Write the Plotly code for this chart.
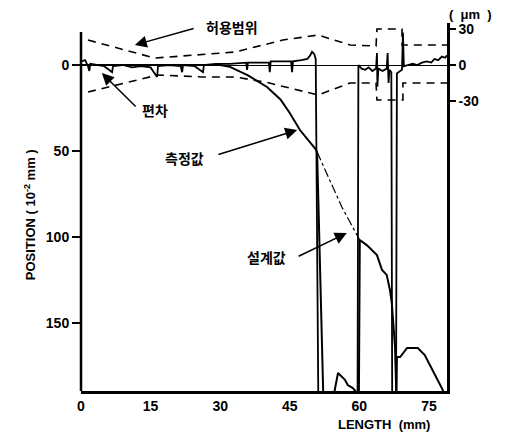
import plotly.graph_objects as go

# ---------------- data ----------------
# x: LENGTH (mm)
x_ticks = [0, 15, 30, 45, 60, 75]
pos_ticks = [0, 50, 100, 150]          # left axis, POSITION (10^-2 mm)
dev_ticks = [30, 0, -30]               # right axis, deviation (um)
dev_ticktext = ["30", "0", "-30"]

# 측정값 (measured) on left axis
meas_x = [0, 30, 32, 33.5, 36, 40.1, 43, 45, 47.2, 50.4, 50.9, 52.2, 52.4,
          54.5, 54.7, 55.4, 56.3, 56.9, 57.5, 58.6, 59.3, 59.5,
          59.9, 60.1, 61.6, 63.8, 64.9, 65.9, 66.6, 67.0, 67.7, 67.8,
          68.0, 68.1, 68.8, 70.3, 72.6, 74.1, 78.0, 78.3]
meas_y = [0, 0, 1, 3, 6, 12.8, 20, 27.9, 37.8, 48.3, 50.6, 189, 195,
          195, 189, 179, 181.4, 183, 186, 187.8, 190, 195,
          195, 101.7, 104.7, 110.5, 119.2, 122, 130.8, 138.4, 164, 195,
          195, 169.8, 169.8, 164.5, 164.5, 168.6, 189, 195]

# 설계값 (design) visible part, dash-dot
design_x = [50.9, 51.5, 54.0, 56.2, 59.1, 60.1]
design_y = [50.6, 54.2, 68.8, 82.4, 96.9, 101.7]

# 편차 (deviation) on right axis, um
dev_x = [0.0, 0.9, 1.5, 1.8, 2.0, 3.5, 5.0, 6.7, 6.9, 9.0, 11.0, 13.0, 15.0,
         16.4, 16.6, 19.0, 21.5, 21.8, 22.0, 24.5, 26.3, 26.5, 29.0, 32.0,
         35.6, 35.8, 36.0, 38.5, 40.5, 40.7, 40.9, 43.0, 45.3, 45.5, 45.7,
         47.5, 48.8, 49.4, 49.8, 50.3, 50.6, 51.2,
         59.6, 59.8, 60.5, 61.3, 62.0, 62.8, 63.6, 63.8, 63.9, 64.1, 65.0,
         65.9, 66.1, 66.3, 66.5, 66.9, 67.1,
         67.9, 68.1, 68.8, 69.2, 69.4, 69.6, 70.5, 71.5, 72.5, 73.5, 74.5,
         75.5, 76.2, 77.0, 77.8, 78.5, 78.9]
dev_y = [3, 4, -1, -5, 1, 0, -1, -6, -1, 0, -2, -1, -2,
         -10, -1, 0, -1, -6, 0, -1, -6, 0, 1, 1,
         2, -4, 2, 2, 2, -6, 3, 3, 3, -6, 3,
         4, 5, 8, 11, 9, 5, -300,
         -300, 0, -3, -4, -2, -5, -3, 10, -18, -3, -5,
         -3, 10, -15, -4, -6, -300,
         -300, -7, -5, -4, 27, -1, 0, 1, 0, 2, 3,
         2, 5, 4, 7, 6, 8]

# 허용범위 (tolerance band), um
tol_up_x = [1.5, 15.9, 33.2, 43.5, 51.1, 58.0, 63.6, 63.8, 69.2, 69.2, 78.9]
tol_up_y = [20.8, 5.8, 10.8, 20.8, 25, 16.7, 15.8, 30, 30, 16.7, 16.7]
tol_lo_x = [1.5, 16.6, 26.1, 33.2, 39.7, 51.1, 58.0, 63.6, 63.8, 69.4, 69.4, 78.9]
tol_lo_y = [-22.5, -8.3, -10, -10, -14.2, -25, -15, -15, -29.2, -29.2, -15, -15]

# axis extents
X_RANGE = [0, 78.9]
POS_RANGE = [189.5, -24.4]
DEV_RANGE = [-271.7, 35]
LEFT_AXIS_TOP = -19.2

FONT = "Liberation Sans, Arial, sans-serif"
KFONT = "Noto Sans CJK KR, sans-serif"

fig = go.Figure()

dash_style = "8px,6px"
fig.add_trace(go.Scatter(x=tol_up_x, y=tol_up_y, yaxis="y2", mode="lines",
                         line=dict(color="black", width=1.6, dash=dash_style),
                         showlegend=False, hoverinfo="skip"))
fig.add_trace(go.Scatter(x=tol_lo_x, y=tol_lo_y, yaxis="y2", mode="lines",
                         line=dict(color="black", width=1.6, dash=dash_style),
                         showlegend=False, hoverinfo="skip"))
fig.add_trace(go.Scatter(x=dev_x, y=dev_y, yaxis="y2", mode="lines",
                         line=dict(color="black", width=1.8),
                         showlegend=False, hoverinfo="skip"))
fig.add_trace(go.Scatter(x=design_x, y=design_y, yaxis="y", mode="lines",
                         line=dict(color="black", width=1.2, dash="dashdot"),
                         showlegend=False, hoverinfo="skip"))
fig.add_trace(go.Scatter(x=meas_x, y=meas_y, yaxis="y", mode="lines",
                         line=dict(color="black", width=2.0),
                         showlegend=False, hoverinfo="skip"))

tickfont = dict(family=FONT, size=14, color="black", weight="bold")

# page body has an 8px default margin: figure is sized/placed to compensate
fig.update_layout(
    width=497, height=429,
    margin=dict(l=73, r=58, t=15, b=46, autoexpand=False),
    paper_bgcolor="white", plot_bgcolor="white",
    xaxis=dict(range=X_RANGE, tickvals=x_ticks, showline=True, linewidth=2.5,
               linecolor="black", ticks="", showgrid=False, zeroline=False,
               automargin=False,
               tickfont=dict(family=FONT, size=14, color="black", weight="bold")),
    yaxis=dict(range=POS_RANGE, tickvals=pos_ticks, showline=False,
               ticks="outside", ticklen=8, tickwidth=2, tickcolor="black",
               showgrid=False, zeroline=False, tickfont=tickfont,
               automargin=False),
    yaxis2=dict(range=DEV_RANGE, overlaying="y", side="right",
                tickvals=dev_ticks, ticktext=dev_ticktext, showline=True,
                linewidth=2.5, linecolor="black", ticks="outside", ticklen=6,
                tickwidth=2, tickcolor="black", showgrid=False,
                zeroline=True, zerolinecolor="black", zerolinewidth=1.3,
                tickfont=tickfont, automargin=False),
    showlegend=False,
)

# left axis line (starts below top of plot area)
fig.add_shape(type="line", xref="paper", yref="y", x0=0, x1=0,
              y0=LEFT_AXIS_TOP, y1=POS_RANGE[0],
              line=dict(color="black", width=2.5))

# axis titles
fig.add_annotation(xref="paper", yref="paper", x=-0.139, y=0.478,
                   xanchor="center", yanchor="middle",
                   text="POSITION ( 10<sup>-2</sup> mm )", textangle=-90,
                   showarrow=False,
                   font=dict(family=FONT, size=13, color="black", weight="bold"))
fig.add_annotation(xref="paper", yref="paper", x=0.828, y=-0.092,
                   xanchor="center", yanchor="middle",
                   text="LENGTH  (mm)", showarrow=False,
                   font=dict(family=FONT, size=13, color="black", weight="bold"))
fig.add_annotation(xref="paper", yref="paper", x=1.063, y=1.024,
                   xanchor="center", yanchor="middle",
                   text="(  μm  )", showarrow=False,
                   font=dict(family=FONT, size=13, color="black", weight="bold"))

kfont = dict(family=KFONT, size=14, color="black", weight="bold")
arrow = dict(showarrow=True, arrowhead=2, arrowsize=1.6, arrowwidth=1.5,
             arrowcolor="black", standoff=0, text="")

# 허용범위
fig.add_annotation(xref="x", yref="y2", x=32.5, y=31.7, text="허용범위",
                   showarrow=False, font=kfont)
fig.add_annotation(xref="x", yref="y2", axref="x", ayref="y2",
                   x=11.6, y=16.7, ax=24.6, ay=30.8, **arrow)
# 편차
fig.add_annotation(xref="x", yref="y2", x=16.0, y=-37.5, text="편차",
                   showarrow=False, font=kfont)
fig.add_annotation(xref="x", yref="y2", axref="x", ayref="y2",
                   x=4.5, y=-6.7, ax=12.1, ay=-35.8, **arrow)
# 측정값
fig.add_annotation(xref="x", yref="y", x=22.4, y=54, text="측정값",
                   showarrow=False, font=kfont)
fig.add_annotation(xref="x", yref="y", axref="x", ayref="y",
                   x=46.6, y=37.8, ax=29.3, ay=52.3, **arrow)
# 설계값
fig.add_annotation(xref="x", yref="y", x=39.9, y=111.6, text="설계값",
                   showarrow=False, font=kfont)
fig.add_annotation(xref="x", yref="y", axref="x", ayref="y",
                   x=57.3, y=97.7, ax=46.6, ay=111.6, **arrow)

fig.write_html("out.html")
